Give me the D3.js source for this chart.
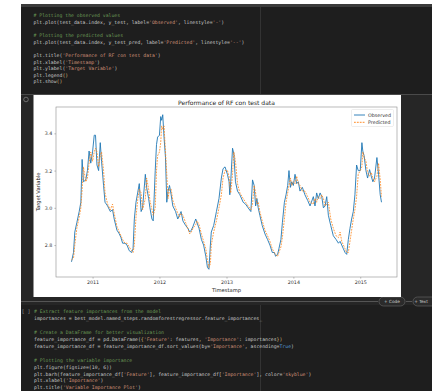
<!DOCTYPE html>
<html>
<head>
<meta charset="utf-8">
<script src="https://cdn.jsdelivr.net/npm/d3@7"></script>
<style>
  html, body { margin: 0; padding: 0; background: #ffffff; }
  svg { display: block; }
</style>
</head>
<body>
<div id="chart"></div>
<script>
// --- data ---
const dates = [
  "2010-09-08","2010-09-19","2010-09-26","2010-10-07","2010-10-20","2010-10-29","2010-11-05","2010-11-12",
  "2010-11-25","2010-12-04","2010-12-13","2010-12-22","2011-01-01","2011-01-10","2011-01-17","2011-01-25",
  "2011-02-03","2011-02-12","2011-02-19","2011-03-02","2011-03-10","2011-03-24","2011-04-08","2011-04-20",
  "2011-04-29","2011-05-14","2011-05-27","2011-06-05","2011-06-14","2011-06-27","2011-07-08","2011-07-20",
  "2011-08-02","2011-08-10","2011-08-17","2011-08-26","2011-09-04","2011-09-13","2011-09-23","2011-10-01",
  "2011-10-16","2011-10-23","2011-11-03","2011-11-10","2011-11-21","2011-11-28","2011-12-09","2011-12-16",
  "2011-12-22","2012-01-01","2012-01-08","2012-01-13","2012-01-19","2012-01-26","2012-02-03","2012-02-10",
  "2012-02-17","2012-02-25","2012-03-05","2012-03-14","2012-03-29","2012-04-10","2012-04-19","2012-04-28",
  "2012-05-08","2012-05-23","2012-06-04","2012-06-14","2012-06-23","2012-07-02","2012-07-17","2012-07-24",
  "2012-08-04","2012-08-17","2012-08-29","2012-09-10","2012-09-19","2012-09-27","2012-10-05","2012-10-10",
  "2012-10-23","2012-11-07","2012-11-21","2012-12-04","2012-12-13","2012-12-24","2013-01-06","2013-01-15",
  "2013-01-19","2013-01-24","2013-02-03","2013-02-10","2013-02-19","2013-03-02","2013-03-15","2013-04-02",
  "2013-04-15","2013-04-29","2013-05-14","2013-05-23","2013-06-01","2013-06-09","2013-06-16","2013-06-23",
  "2013-07-02","2013-07-15","2013-07-30","2013-08-13","2013-08-26","2013-09-08","2013-09-19","2013-09-26",
  "2013-10-07","2013-10-14","2013-10-25","2013-11-02","2013-11-13","2013-11-22","2013-12-01","2013-12-08",
  "2013-12-16","2013-12-23","2014-01-01","2014-01-10","2014-01-19","2014-01-28","2014-02-06","2014-02-19",
  "2014-03-05","2014-03-20","2014-04-02","2014-04-20","2014-04-29","2014-05-08","2014-05-17","2014-05-27",
  "2014-06-05","2014-06-14","2014-06-23","2014-07-02","2014-07-11","2014-07-24","2014-08-07","2014-08-22",
  "2014-09-04","2014-09-13","2014-09-22","2014-10-01","2014-10-10","2014-10-19","2014-10-28","2014-11-06",
  "2014-11-15","2014-11-24","2014-12-03","2014-12-12","2014-12-21","2015-01-01","2015-01-10","2015-01-15",
  "2015-01-22","2015-02-01","2015-02-10","2015-02-21","2015-03-02","2015-03-11","2015-03-20","2015-04-02",
  "2015-04-11","2015-04-20","2015-04-27"
];
const observed = [
  2.71,2.76,2.87,2.92,2.98,3.03,3.26,3.14, 3.15,3.20,3.305,3.24,3.30,3.39,3.39,3.23,
  3.20,3.35,3.25,3.12,3.03,3.01,2.98,2.99, 2.94,2.88,2.86,2.84,2.81,2.81,2.80,2.77,
  2.76,2.78,2.94,3.03,3.08,3.13,2.98,3.00, 3.18,3.11,3.05,3.00,2.94,2.93,3.20,3.34,
  3.38,3.39,3.49,3.47,3.50,3.38,3.27,3.03, 3.09,3.12,3.07,3.01,2.98,2.94,2.96,2.98,
  2.93,2.905,2.89,2.87,2.88,2.90,2.94,2.92, 2.89,2.83,2.80,2.74,2.68,2.67,2.80,2.87,
  2.905,2.98,3.05,3.16,3.21,3.22,3.18,3.14, 3.07,3.14,3.32,3.29,3.14,3.09,3.07,3.03,
  3.02,3.00,2.98,3.15,3.12,3.01,3.05,3.00, 2.96,2.905,2.86,2.83,2.80,2.76,2.76,2.74,
  2.75,2.78,2.83,2.92,3.03,3.07,3.12,3.20, 3.11,3.14,3.12,3.18,3.13,3.14,3.09,3.11,
  3.07,3.04,3.01,3.06,3.01,3.08,3.05,3.08, 3.06,3.00,3.01,3.06,2.96,2.905,2.85,2.83,
  2.81,2.82,2.80,2.78,2.76,2.75,2.83,2.89, 2.94,2.98,3.07,3.23,3.20,3.20,3.35,3.305,
  3.28,3.20,3.16,3.205,3.17,3.14,3.16,3.27, 3.18,3.07,3.03
];
const predicted = [
  2.72,2.73,2.80,2.89,2.95,3.00,3.10,3.22, 3.14,3.16,3.24,3.30,3.25,3.30,3.32,3.30,
  3.22,3.28,3.30,3.20,3.08,3.02,2.99,3.02, 2.97,2.90,2.87,2.85,2.83,2.81,2.81,2.79,
  2.77,2.76,2.80,2.95,3.04,3.10,3.08,2.99, 3.05,3.16,3.10,3.04,2.99,2.96,3.00,3.20,
  3.28,3.30,3.35,3.44,3.42,3.44,3.30,3.18, 3.05,3.10,3.10,3.04,3.00,2.97,2.95,2.97,
  2.96,2.92,2.89,2.86,2.87,2.89,2.91,2.93, 2.91,2.86,2.82,2.78,2.72,2.68,2.70,2.80,
  2.87,2.93,3.00,3.07,3.16,3.20,3.20,3.17, 3.12,3.08,3.18,3.30,3.25,3.13,3.08,3.05,
  3.03,3.01,2.99,3.02,3.12,3.08,3.02,3.03, 2.98,2.93,2.88,2.85,2.82,2.78,2.76,2.75,
  2.74,2.76,2.79,2.84,2.94,3.03,3.08,3.12, 3.16,3.12,3.14,3.13,3.17,3.13,3.12,3.09,
  3.09,3.06,3.03,3.02,3.05,3.03,3.06,3.05, 3.07,3.05,3.01,3.02,3.03,2.94,2.89,2.85,
  2.84,2.87,2.82,2.80,2.78,2.76,2.76,2.82, 2.88,2.94,2.99,3.06,3.18,3.20,3.22,3.30,
  3.27,3.25,3.19,3.17,3.19,3.16,3.14,3.17, 3.24,3.15,3.06
];
const yTicks = [2.8, 3.0, 3.2, 3.4];
const seriesNames = ["Observed", "Predicted"];

const topCode = [
  [["# Plotting the observed values", "c"]],
  [["plt.plot(test_data.index, y_test, label=", "t"], ["'Observed'", "s"], [", linestyle=", "t"], ["'-'", "s"], [")", "t"]],
  [],
  [["# Plotting the predicted values", "c"]],
  [["plt.plot(test_data.index, y_test_pred, label=", "t"], ["'Predicted'", "s"], [", linestyle=", "t"], ["'--'", "s"], [")", "t"]],
  [],
  [["plt.title(", "t"], ["'Performance of RF con test data'", "s"], [")", "t"]],
  [["plt.xlabel(", "t"], ["'Timestamp'", "s"], [")", "t"]],
  [["plt.ylabel(", "t"], ["'Target Variable'", "s"], [")", "t"]],
  [["plt.legend", "t"], ["()", "b"]],
  [["plt.show", "t"], ["()", "b"]]
];
const bottomCode = [
  [["# Extract feature importances from the model", "c"]],
  [["importances = best_model.named_steps.randomforestregressor.feature_importances_", "t"]],
  [],
  [["# Create a DataFrame for better visualization", "c"]],
  [["feature_importance_df = pd.DataFrame(", "t"], ["{", "b"], ["'Feature'", "s"], [": features, ", "t"], ["'Importance'", "s"], [": importances", "t"], ["})", "b"]],
  [["feature_importance_df = feature_importance_df.sort_values(by=", "t"], ["'Importance'", "s"], [", ascending=", "t"], ["True", "k"], [")", "t"]],
  [],
  [["# Plotting the variable importance", "c"]],
  [["plt.figure(figsize=(10, 6))", "t"]],
  [["plt.barh(feature_importance_df[", "t"], ["'Feature'", "s"], ["], feature_importance_df[", "t"], ["'Importance'", "s"], ["], color=", "t"], ["'skyblue'", "s"], [")", "t"]],
  [["plt.xlabel(", "t"], ["'Importance'", "s"], [")", "t"]],
  [["plt.title(", "t"], ["'Variable Importance Plot'", "s"], [")", "t"]]
];

const W = 432, H = 391;
const codeColors = { c: "#6a9955", t: "#c8c8c8", s: "#ce9178", b: "#d7ba7d", k: "#569cd6" };

const svg = d3.select("#chart").append("svg")
  .attr("width", W).attr("height", H)
  .style("font-family", "'DejaVu Sans', sans-serif");

// notebook chrome
svg.append("rect").attr("x", 0).attr("y", 0).attr("width", W).attr("height", H).attr("fill", "#ffffff");
svg.append("rect").attr("x", 21).attr("y", 4).attr("width", W - 21).attr("height", H - 4).attr("fill", "#262626");
svg.append("rect").attr("x", 21).attr("y", 4).attr("width", W - 21).attr("height", 3).attr("fill", "#3b3b3b");
svg.append("rect").attr("x", 21).attr("y", 7).attr("width", W - 21).attr("height", 87).attr("fill", "#1e1e1e");
svg.append("line").attr("x1", 21).attr("x2", W).attr("y1", 94.5).attr("y2", 94.5).attr("stroke", "#4a4a4a");
svg.append("line").attr("x1", 260.5).attr("x2", 260.5).attr("y1", 7).attr("y2", 94).attr("stroke", "#333");
svg.append("rect").attr("x", 21).attr("y", 305).attr("width", W - 21).attr("height", H - 305).attr("fill", "#1e1e1e");
svg.append("line").attr("x1", 260.5).attr("x2", 260.5).attr("y1", 305).attr("y2", H).attr("stroke", "#333");

function drawCode(lines, x0, y0, lh) {
  const g = svg.append("g")
    .style("font-family", "'DejaVu Sans Mono', monospace")
    .style("font-size", "4.8px");
  lines.forEach((segs, i) => {
    const t = g.append("text").attr("x", x0).attr("y", y0 + i * lh);
    segs.forEach(s => t.append("tspan").attr("fill", codeColors[s[1]]).attr("xml:space", "preserve").text(s[0]));
  });
}
drawCode(topCode, 33.5, 17.4, 6.6);
drawCode(bottomCode, 34, 313.4, 6.9);

// cell markers and buttons
svg.append("circle").attr("cx", 26).attr("cy", 99.5).attr("r", 2.3).attr("fill", "none").attr("stroke", "#8a8a8a").attr("stroke-width", 0.7);
svg.append("text").attr("x", 21.5).attr("y", 313).attr("fill", "#9a9a9a").style("font-family", "'DejaVu Sans Mono', monospace").style("font-size", "5px").text("[ ]");
svg.append("line").attr("x1", 21).attr("x2", 378).attr("y1", 301.5).attr("y2", 301.5).attr("stroke", "#555");
svg.append("line").attr("x1", 406).attr("x2", 412).attr("y1", 301.5).attr("y2", 301.5).attr("stroke", "#555");
[["+ Code", 379, 26, 392], ["+ Text", 413, 28, 421]].forEach(([lab, bx, bw, tx]) => {
  svg.append("rect").attr("x", bx).attr("y", 297).attr("width", bw).attr("height", 9).attr("rx", 4.5)
    .attr("fill", "#2b2b2b").attr("stroke", "#6a6a6a").attr("stroke-width", 0.6);
  svg.append("text").attr("x", tx).attr("y", 303.2).attr("text-anchor", "middle")
    .attr("fill", "#d0d0d0").style("font-size", "4.3px").text(lab);
});

// figure
svg.append("rect").attr("x", 33.5).attr("y", 95).attr("width", 367.5).attr("height", 202).attr("fill", "#ffffff");

const plot = { left: 56, right: 397, top: 107, bottom: 277 };
const parse = d3.timeParse("%Y-%m-%d");
const pts = dates.map((d, i) => ({ date: parse(d), obs: observed[i], pred: predicted[i] }));

const tExt = d3.extent(pts, d => d.date);
const tPad = (tExt[1] - tExt[0]) * 0.05;
const x = d3.scaleTime()
  .domain([new Date(+tExt[0] - tPad), new Date(+tExt[1] + tPad)])
  .range([plot.left, plot.right]);
const allV = observed.concat(predicted);
const vMin = d3.min(allV), vMax = d3.max(allV), vPad = (vMax - vMin) * 0.05;
const y = d3.scaleLinear().domain([vMin - vPad, vMax + vPad]).range([plot.bottom, plot.top]);

const xAxis = svg.append("g").attr("transform", `translate(0,${plot.bottom})`)
  .call(d3.axisBottom(x).ticks(d3.timeYear.every(1)).tickFormat(d3.timeFormat("%Y")).tickSizeOuter(0).tickSize(1.6).tickPadding(2));
const yAxis = svg.append("g").attr("transform", `translate(${plot.left},0)`)
  .call(d3.axisLeft(y).tickValues(yTicks).tickFormat(d3.format(".1f")).tickSizeOuter(0).tickSize(1.6).tickPadding(2));
[xAxis, yAxis].forEach(a => {
  a.select(".domain").remove();
  a.selectAll(".tick line").attr("stroke", "#777").attr("stroke-width", 0.5);
  a.selectAll(".tick text").attr("fill", "#333").style("font-size", "4.8px").style("font-family", "'DejaVu Sans', sans-serif");
});

const line = (key) => d3.line().x(d => x(d.date)).y(d => y(d[key]));
svg.append("path").datum(pts).attr("d", line("obs"))
  .attr("fill", "none").attr("stroke", "#1f77b4").attr("stroke-width", 0.9).attr("stroke-linejoin", "round");
svg.append("path").datum(pts).attr("d", line("pred"))
  .attr("fill", "none").attr("stroke", "#ff7f0e").attr("stroke-width", 0.9).attr("stroke-dasharray", "1.8,1.1").attr("opacity", 0.85);

svg.append("rect").attr("x", plot.left).attr("y", plot.top)
  .attr("width", plot.right - plot.left).attr("height", plot.bottom - plot.top)
  .attr("fill", "none").attr("stroke", "#8c8c8c").attr("stroke-width", 0.6);

svg.append("text").attr("x", (plot.left + plot.right) / 2).attr("y", 104.5).attr("text-anchor", "middle")
  .attr("fill", "#222").style("font-size", "6px").text("Performance of RF con test data");
svg.append("text").attr("x", (plot.left + plot.right) / 2).attr("y", 292).attr("text-anchor", "middle")
  .attr("fill", "#222").style("font-size", "5.2px").text("Timestamp");
svg.append("text").attr("transform", `translate(39.5,${(plot.top + plot.bottom) / 2}) rotate(-90)`).attr("text-anchor", "middle")
  .attr("fill", "#222").style("font-size", "5.2px").text("Target Variable");

// legend
const lg = svg.append("g").attr("transform", "translate(351.5,109.5)");
lg.append("rect").attr("width", 42).attr("height", 17).attr("rx", 1.2)
  .attr("fill", "#fff").attr("fill-opacity", 0.8).attr("stroke", "#dcdcdc").attr("stroke-width", 0.5);
seriesNames.forEach((name, i) => {
  const yy = 5.5 + i * 7.3;
  lg.append("line").attr("x1", 2.5).attr("x2", 13.5).attr("y1", yy).attr("y2", yy)
    .attr("stroke", i === 0 ? "#1f77b4" : "#ff7f0e").attr("stroke-width", 0.9)
    .attr("stroke-dasharray", i === 0 ? null : "1.8,1.1");
  lg.append("text").attr("x", 16.5).attr("y", yy + 1.7).attr("fill", "#333").style("font-size", "4.8px").text(name);
});
</script>
</body>
</html>
